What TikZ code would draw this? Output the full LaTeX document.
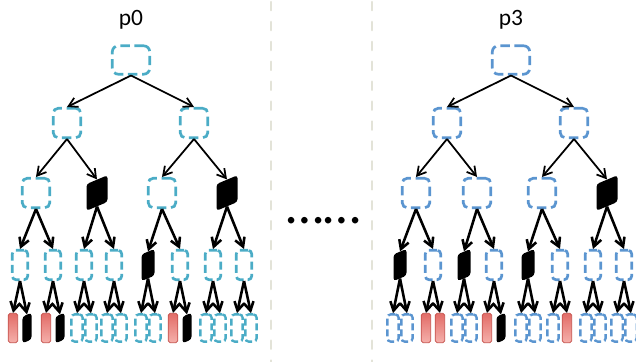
\documentclass[tikz,border=0pt]{standalone}
\usepackage{fontspec}
\setmainfont{Carlito}
\usetikzlibrary{arrows.meta,positioning}

\definecolor{lcyan}{HTML}{4BACC6}
\definecolor{lblue}{HTML}{5B95D0}
\definecolor{leafred}{HTML}{E26C67}
\definecolor{leafredlt}{HTML}{F5B0AB}
\definecolor{leafredbd}{HTML}{C4504B}
\definecolor{sepgray}{HTML}{E3E3D8}

\begin{document}
\begin{tikzpicture}[x=0.03cm, y=-0.03cm]

\tikzstyle{dbox} = [rectangle, rounded corners=3pt, line width=2.3pt, dash pattern=on 8pt off 4pt, inner sep=0pt]
\tikzstyle{rootbox} = [dbox, minimum width=1.12cm, minimum height=0.85cm, rounded corners=5pt]
\tikzstyle{midbox} = [dbox, minimum width=0.82cm, minimum height=0.88cm, rounded corners=4pt]
\tikzstyle{lowbox} = [dbox, minimum width=0.46cm, minimum height=0.88cm, dash pattern=on 7pt off 3.5pt]
\tikzstyle{leafbox} = [dbox, minimum width=0.34cm, minimum height=0.82cm, line width=2pt, dash pattern=on 6pt off 3pt]
\tikzstyle{redleaf} = [rectangle, draw=leafredbd, line width=0.6pt, top color=leafred, bottom color=leafredlt, rounded corners=1.5pt, minimum width=0.28cm, minimum height=0.88cm, inner sep=0pt]
\tikzstyle{dark} = [rectangle, fill=black, rounded corners=2.5pt, transform shape, yslant=0.42, inner sep=0pt]
\tikzstyle{darkmid} = [dark, minimum width=0.63cm, minimum height=0.8cm]
\tikzstyle{darklow} = [dark, minimum width=0.39cm, minimum height=0.8cm]
\tikzstyle{darkleaf} = [dark, minimum width=0.27cm, minimum height=0.8cm]
\tikzstyle{arr} = [-{Straight Barb[length=2.6mm, width=3mm]}, line width=1.5pt]
\tikzstyle{arrlow} = [arr, line width=2.2pt]
\tikzstyle{title} = [font=\fontsize{20}{20}\selectfont]
\tikzstyle{sep} = [sepgray, line width=2.2pt, dash pattern=on 7pt off 10pt, line cap=round]

\path[use as bounding box, clip] (0,0) rectangle (636,362);

% separators
\draw[sep] (271,2) -- (271,362);
\draw[sep] (372,2) -- (372,362);
\node [font=\fontsize{46}{46}\selectfont] (dots) at (324,221) {……};

% tree p0
\node [title] (p0_txt) at (131,20) {p0};
\node [rootbox, draw=lcyan] (p0_1) at (131,60) {};
\node [midbox, draw=lcyan] (p0_2) at (67,123) {};
\node [midbox, draw=lcyan] (p0_3) at (194,123) {};
\node [midbox, draw=lcyan] (p0_4) at (36,193) {};
\node [darkmid] (p0_5) at (97,193) {};
\node [midbox, draw=lcyan] (p0_6) at (162,193) {};
\node [darkmid] (p0_7) at (227,193) {};
\node [lowbox, draw=lcyan] (p0_8) at (20,265) {};
\node [lowbox, draw=lcyan] (p0_9) at (53,265) {};
\node [lowbox, draw=lcyan] (p0_10) at (84,265) {};
\node [lowbox, draw=lcyan] (p0_11) at (114,265) {};
\node [darklow] (p0_12) at (148,265) {};
\node [lowbox, draw=lcyan] (p0_13) at (180,265) {};
\node [lowbox, draw=lcyan] (p0_14) at (213,265) {};
\node [lowbox, draw=lcyan] (p0_15) at (244,265) {};
\node [redleaf] (p0_16) at (13,328) {};
\node [darkleaf] (p0_17) at (27,328) {};
\node [redleaf] (p0_18) at (46,328) {};
\node [darkleaf] (p0_19) at (60,328) {};
\node [leafbox, draw=lcyan] (p0_20) at (77,328) {};
\node [leafbox, draw=lcyan] (p0_21) at (91,328) {};
\node [leafbox, draw=lcyan] (p0_22) at (107,328) {};
\node [leafbox, draw=lcyan] (p0_23) at (121,328) {};
\node [leafbox, draw=lcyan] (p0_24) at (141,328) {};
\node [leafbox, draw=lcyan] (p0_25) at (155,328) {};
\node [redleaf] (p0_26) at (173,328) {};
\node [darkleaf] (p0_27) at (187,328) {};
\node [leafbox, draw=lcyan] (p0_28) at (206,328) {};
\node [leafbox, draw=lcyan] (p0_29) at (220,328) {};
\node [leafbox, draw=lcyan] (p0_30) at (237,328) {};
\node [leafbox, draw=lcyan] (p0_31) at (251,328) {};

\path[arr] (p0_1.south) edge (p0_2.north) edge (p0_3.north);
\path[arr] (p0_2.south) edge (p0_4.north) edge (p0_5.north);
\path[arr] (p0_3.south) edge (p0_6.north) edge (p0_7.north);
\path[arrlow] (p0_4.south) edge (p0_8.north) edge (p0_9.north);
\path[arrlow] (p0_5.south) edge (p0_10.north) edge (p0_11.north);
\path[arrlow] (p0_6.south) edge (p0_12.north) edge (p0_13.north);
\path[arrlow] (p0_7.south) edge (p0_14.north) edge (p0_15.north);
\path[arrlow] (p0_8.south) edge (p0_16.north) edge (p0_17.north);
\path[arrlow] (p0_9.south) edge (p0_18.north) edge (p0_19.north);
\path[arrlow] (p0_10.south) edge (p0_20.north) edge (p0_21.north);
\path[arrlow] (p0_11.south) edge (p0_22.north) edge (p0_23.north);
\path[arrlow] (p0_12.south) edge (p0_24.north) edge (p0_25.north);
\path[arrlow] (p0_13.south) edge (p0_26.north) edge (p0_27.north);
\path[arrlow] (p0_14.south) edge (p0_28.north) edge (p0_29.north);
\path[arrlow] (p0_15.south) edge (p0_30.north) edge (p0_31.north);

% tree p3
\node [title] (p3_txt) at (511,20) {p3};
\node [rootbox, draw=lblue] (p3_1) at (511,60) {};
\node [midbox, draw=lblue] (p3_2) at (447,123) {};
\node [midbox, draw=lblue] (p3_3) at (574,123) {};
\node [midbox, draw=lblue] (p3_4) at (416,193) {};
\node [midbox, draw=lblue] (p3_5) at (477,193) {};
\node [midbox, draw=lblue] (p3_6) at (542,193) {};
\node [darkmid] (p3_7) at (607,193) {};
\node [darklow] (p3_8) at (400,265) {};
\node [lowbox, draw=lblue] (p3_9) at (433,265) {};
\node [darklow] (p3_10) at (464,265) {};
\node [lowbox, draw=lblue] (p3_11) at (494,265) {};
\node [darklow] (p3_12) at (528,265) {};
\node [lowbox, draw=lblue] (p3_13) at (560,265) {};
\node [lowbox, draw=lblue] (p3_14) at (593,265) {};
\node [lowbox, draw=lblue] (p3_15) at (624,265) {};
\node [leafbox, draw=lblue] (p3_16) at (393,328) {};
\node [leafbox, draw=lblue] (p3_17) at (407,328) {};
\node [redleaf] (p3_18) at (426,328) {};
\node [redleaf] (p3_19) at (440,328) {};
\node [leafbox, draw=lblue] (p3_20) at (457,328) {};
\node [leafbox, draw=lblue] (p3_21) at (471,328) {};
\node [redleaf] (p3_22) at (487,328) {};
\node [darkleaf] (p3_23) at (501,328) {};
\node [leafbox, draw=lblue] (p3_24) at (521,328) {};
\node [leafbox, draw=lblue] (p3_25) at (535,328) {};
\node [leafbox, draw=lblue] (p3_26) at (553,328) {};
\node [redleaf] (p3_27) at (567,328) {};
\node [leafbox, draw=lblue] (p3_28) at (586,328) {};
\node [leafbox, draw=lblue] (p3_29) at (600,328) {};
\node [leafbox, draw=lblue] (p3_30) at (617,328) {};
\node [leafbox, draw=lblue] (p3_31) at (631,328) {};

\path[arr] (p3_1.south) edge (p3_2.north) edge (p3_3.north);
\path[arr] (p3_2.south) edge (p3_4.north) edge (p3_5.north);
\path[arr] (p3_3.south) edge (p3_6.north) edge (p3_7.north);
\path[arrlow] (p3_4.south) edge (p3_8.north) edge (p3_9.north);
\path[arrlow] (p3_5.south) edge (p3_10.north) edge (p3_11.north);
\path[arrlow] (p3_6.south) edge (p3_12.north) edge (p3_13.north);
\path[arrlow] (p3_7.south) edge (p3_14.north) edge (p3_15.north);
\path[arrlow] (p3_8.south) edge (p3_16.north) edge (p3_17.north);
\path[arrlow] (p3_9.south) edge (p3_18.north) edge (p3_19.north);
\path[arrlow] (p3_10.south) edge (p3_20.north) edge (p3_21.north);
\path[arrlow] (p3_11.south) edge (p3_22.north) edge (p3_23.north);
\path[arrlow] (p3_12.south) edge (p3_24.north) edge (p3_25.north);
\path[arrlow] (p3_13.south) edge (p3_26.north) edge (p3_27.north);
\path[arrlow] (p3_14.south) edge (p3_28.north) edge (p3_29.north);
\path[arrlow] (p3_15.south) edge (p3_30.north) edge (p3_31.north);

\end{tikzpicture}
\end{document}
